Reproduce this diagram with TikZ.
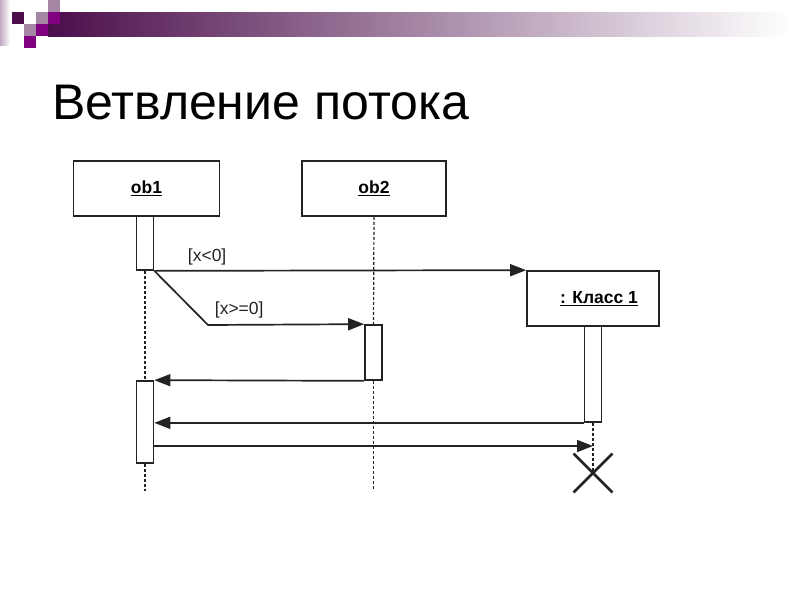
\documentclass[tikz,border=0pt]{standalone}
\usepackage{fontspec}
\setmainfont{Liberation Sans}
\usepackage{tikz}
\usetikzlibrary{arrows.meta,shapes.misc,positioning,calc}
\definecolor{darkPlum}{RGB}{75,14,75}
\definecolor{plumMid}{RGB}{128,0,128}
\definecolor{lightMauve}{RGB}{165,135,165}
\definecolor{lineGray}{RGB}{35,35,35}
\tikzset{
  objbox/.style={
    rectangle, draw=lineGray, line width=1.7pt, fill=white,
    minimum width=146pt, minimum height=55pt, inner sep=0pt,
    font=\fontsize{17.5}{20}\selectfont\bfseries
  },
  actbox/.style={
    rectangle, draw=lineGray, line width=1.7pt, fill=white,
    minimum width=17pt, inner sep=0pt
  },
  lifeline/.style={lineGray, line width=1.2pt, dash pattern=on 3pt off 2pt},
  msgArrow/.style={-{Triangle[length=16pt,width=12pt]}, line width=1.7pt, color=lineGray},
  guard/.style={font=\fontsize{17.5}{20}\selectfont, color=lineGray, inner sep=0pt}
}
\begin{document}
\begin{tikzpicture}[x=1pt,y=-1pt]
    \useasboundingbox (0,0) rectangle (800,600);
    % header bar and squares
    \shade[left color=darkPlum, right color=white] (48,12) rectangle (790,36);
    \shade[left color=darkPlum!35, right color=white] (0,0) rectangle (10,45);
    \fill[darkPlum] (12,12) rectangle (24,24);
    \fill[lightMauve] (48,0) rectangle (60,12);
    \fill[lightMauve] (36,12) rectangle (48,24);
    \fill[plumMid] (48,12) rectangle (60,24);
    \fill[lightMauve] (24,24) rectangle (36,36);
    \fill[plumMid] (36,24) rectangle (48,36);
    \fill[plumMid] (24,36) rectangle (36,48);

    \node[anchor=base west, inner sep=0pt, font=\fontsize{50}{60}\selectfont] (title) at (52,119) {Ветвление потока};

    % objects
    \node[objbox] (ob1) at (146.5,188.5) {\underline{ob1}};
    \node[objbox, minimum width=144pt] (ob2) at (374,188.5) {\underline{ob2}};
    \node[objbox, minimum width=132pt] (k1) at (593,298.5) {\hspace{12pt}\underline{: Класс 1}};

    % activations
    \node[actbox, minimum height=54pt] (act1) at (145,243) {};
    \node[actbox, minimum height=55pt] (act2) at (373.5,352.5) {};
    \node[actbox, minimum height=82pt] (act3) at (145,422) {};
    \node[actbox, minimum height=96pt] (k1act) at (593,374) {};

    % lifelines
    \draw[lifeline] (act1.south) -- (act3.north);
    \draw[lifeline] (act3.south) -- ++(0,27);
    \draw[lifeline] (ob2.south) -- (act2.north);
    \draw[lifeline] (act2.south) -- ++(0,110);

    \node[cross out, draw=lineGray, line width=2.8pt, minimum size=36pt, inner sep=0pt] (kill) at (593,473) {};
    \draw[lifeline] (k1act.south) -- (kill.center);

    % messages
    \coordinate (bend) at (208,325);
    \coordinate (endMsg) at (593,446);
    \draw[msgArrow] (act1.south east) -- (k1.north west)
          node[guard, pos=0.142, above=5pt] {[x<0]};
    \draw[msgArrow] (act1.south east) -- (bend) -- (act2.north west)
          node[guard, pos=0.2, above=6pt] {[x>=0]};
    \draw[msgArrow] (act2.south west) -- (act3.north east);
    \draw[msgArrow] (k1act.south west) -- (act3.east |- k1act.south west);
    \draw[msgArrow] (endMsg -| act3.east) -- (endMsg);
\end{tikzpicture}
\end{document}
